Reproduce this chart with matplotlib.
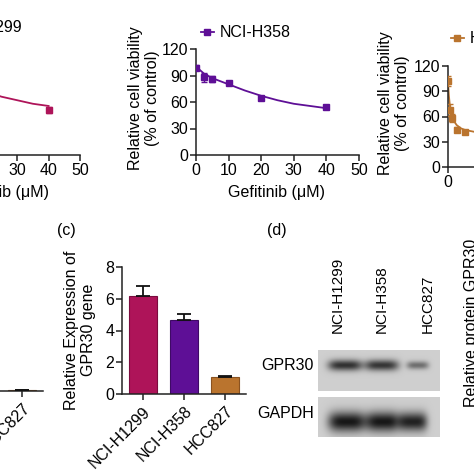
import numpy as np
import matplotlib
matplotlib.use("Agg")
import matplotlib.pyplot as plt

plt.rcParams['font.family'] = ['Liberation Sans', 'DejaVu Sans']

# --- data ---
conc = [0, 2.5, 5, 10, 20, 40]
h1299_via = [100, 95, 90, 84, 72, 51]
h1299_err = [3, 3, 3, 3, 3, 3]
h1299_fit_x = [0, 5, 10, 15, 20, 25, 30, 35, 40]
h1299_fit_y = [100, 91, 84, 78, 72, 66, 62, 58, 55.5]

h358_via = [99, 88, 86, 82, 64, 54]
h358_err = [3, 5, 3, 2, 2, 2]
h358_fit_x = [0, 2.5, 5, 10, 15, 20, 25, 30, 35, 40]
h358_fit_y = [100, 92, 87, 80, 73, 67, 62, 58, 55.5, 53]

hcc_conc = [0, 2.5, 5, 10, 20]
hcc_via = [102, 68, 58, 44, 41]
hcc_err = [6, 7, 5, 3, 2]
hcc_fit_x = [0, 1, 2.5, 5, 10, 15, 20, 30]
hcc_fit_y = [100, 85, 70, 58, 50, 46, 44, 42]

cells = ['NCI-H1299', 'NCI-H358', 'HCC827']
gene_expr = [6.2, 4.65, 1.05]
gene_err = [0.6, 0.38, 0.08]
left_expr = [6.0, 4.5, 0.05]
left_err = [0.4, 0.3, 0.03]

gpr30_band = [0.62, 0.60, 0.38]
gapdh_band = [0.72, 0.72, 0.68]

c_h1299 = '#AE1459'
c_h358 = '#5E0F96'
c_hcc = '#BA742E'

W = H = 474
fig = plt.figure(figsize=(4.74, 4.74), dpi=100)


def px_axes(l, t, r, b):
    return fig.add_axes([l / W, 1 - b / H, (r - l) / W, (b - t) / H])


def style(ax):
    for s in ['top', 'right']:
        ax.spines[s].set_visible(False)
    for s in ['left', 'bottom']:
        ax.spines[s].set_linewidth(1.1)
        ax.spines[s].set_color('#222222')
    ax.tick_params(width=1.1, length=4, labelsize=11.5, color='#222222', pad=1.5)
    ax.patch.set_alpha(0)


def viability(ax, x, y, e, fx, fy, col):
    ax.plot(fx, fy, color=col, lw=1.3, zorder=2)
    ax.errorbar(x, y, yerr=e, fmt='s', color=col, ms=5, capsize=2, elinewidth=1, zorder=3)
    ax.set_xlim(0, 50)
    ax.set_ylim(0, 120)
    ax.set_xticks([0, 10, 20, 30, 40, 50])
    ax.set_yticks([0, 30, 60, 90, 120])
    style(ax)


# top row: viability curves
ax1 = px_axes(-77, 49, 80, 155)
viability(ax1, conc, h1299_via, h1299_err, h1299_fit_x, h1299_fit_y, c_h1299)

ax2 = px_axes(196, 49, 359, 155)
viability(ax2, conc, h358_via, h358_err, h358_fit_x, h358_fit_y, c_h358)

ax3 = px_axes(448, 66, 618, 167)
viability(ax3, hcc_conc, hcc_via, hcc_err, hcc_fit_x, hcc_fit_y, c_hcc)
ax3.set_xlim(0, 200)
ax3.set_xticks([0, 50, 100, 150, 200])


def bars(ax, vals, errs):
    x = np.arange(len(cells))
    cols = [c_h1299, c_h358, c_hcc]
    ax.bar(x, vals, width=0.68, color=cols, edgecolor=['#7a0c3e', '#3f0a66', '#8a5220'],
           linewidth=0.8, zorder=2)
    ax.errorbar(x, vals, yerr=[[0] * len(errs), errs], fmt='none', ecolor='#111111',
                elinewidth=1.3, capsize=5, capthick=1.3, zorder=3)
    ax.set_xlim(-0.5, 2.5)
    ax.set_ylim(0, 8)
    ax.set_yticks([0, 2, 4, 6, 8])
    ax.set_xticks(x)
    ax.set_xticklabels(cells, rotation=45, ha='right', rotation_mode='anchor', fontsize=12)
    style(ax)
    ax.tick_params(axis='x', pad=3)


# bottom row: bar charts
axb = px_axes(-81, 266, 43, 391)
bars(axb, left_expr, left_err)

axc = px_axes(122, 267, 246, 394)
bars(axc, gene_expr, gene_err)

# canvas in pixel coordinates for texts and blot
cv = fig.add_axes([0, 0, 1, 1])
cv.set_xlim(0, W)
cv.set_ylim(H, 0)
cv.axis('off')
cv.patch.set_alpha(0)


def legend(x_text, y, label, col):
    cv.plot([x_text - 19, x_text - 6], [y, y], color=col, lw=1.3)
    cv.plot([x_text - 12.5], [y], 's', color=col, ms=5)
    cv.text(x_text, y, label, fontsize=11.5, va='center', ha='left')


legend(-57, 27, 'NCI-H1299', c_h1299)
legend(220, 32, 'NCI-H358', c_h358)
legend(470, 38, 'HCC827', c_hcc)

lab = dict(fontsize=11.5, ha='center', va='center')
cv.text(1, 193, 'Gefitinib (μM)', **lab)
cv.text(277, 193, 'Gefitinib (μM)', **lab)
cv.text(144, 98, 'Relative cell viability\n(% of control)', rotation=90, **lab)
cv.text(394, 103, 'Relative cell viability\n(% of control)', rotation=90, **lab)
cv.text(80, 330, 'Relative Expression of\nGPR30 gene', rotation=90, **lab)
cv.text(472, 323, 'Relative protein GPR30', rotation=90, **lab)
cv.text(66, 230, '(c)', **lab)
cv.text(277, 230, '(d)', **lab)


# western blot
def blot(top, bottom, centers, yc, half_w, half_h, dens):
    xs = np.arange(318, 440, 0.5)
    ys = np.arange(top, bottom, 0.5)
    X, Y = np.meshgrid(xs, ys)
    img = np.full(X.shape, 0.81)
    for cx, hw, hh, d in zip(centers, half_w, half_h, dens):
        img -= d * np.exp(-(((X - cx) / hw) ** 4) - ((Y - yc) / hh) ** 2)
    cv.imshow(np.clip(img, 0, 1), cmap='gray', vmin=0, vmax=1,
              extent=[318, 440, bottom, top], aspect='auto', interpolation='bilinear')


blot(350, 391, [345, 381.5, 417.5], 365, [17, 17, 11], [5.5, 5.5, 4], gpr30_band)
blot(397, 437, [347, 383, 413], 421.5, [19, 17, 14], [10, 10, 9.5], gapdh_band)
cv.set_xlim(0, W)
cv.set_ylim(H, 0)

cv.text(314, 366, 'GPR30', fontsize=11.5, ha='right', va='center')
cv.text(314, 413, 'GAPDH', fontsize=11.5, ha='right', va='center')
for x, name in zip([338, 382, 428], cells):
    cv.text(x, 333, name, rotation=90, fontsize=11, ha='center', va='bottom')

fig.savefig('out.png', dpi=100)
